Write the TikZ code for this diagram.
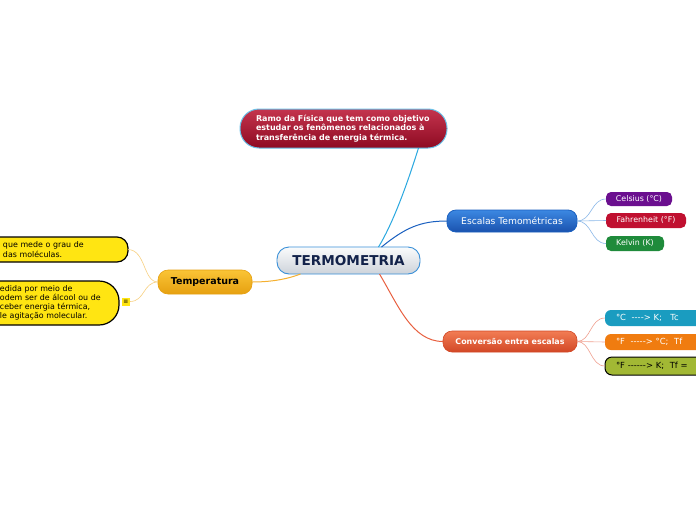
\documentclass[tikz,border=0pt]{standalone}
\usepackage{fontspec}
\setmainfont{DejaVu Sans}
\begin{document}
\begin{tikzpicture}[x=1pt,y=-1pt,
  box/.style={rectangle, inner sep=0pt, outer sep=0pt, text=white},
  lnk/.style={line width=1pt},
  thin/.style={line width=0.6pt}]
\definecolor{topA}{HTML}{C4344E}\definecolor{topB}{HTML}{8E0A22}
\definecolor{rootA}{HTML}{FAFBFC}\definecolor{rootB}{HTML}{CDD3DA}
\definecolor{rootE}{HTML}{3A90D8}\definecolor{rootT}{HTML}{12224A}
\definecolor{escA}{HTML}{3C88E2}\definecolor{escB}{HTML}{1A52AE}
\definecolor{convA}{HTML}{F27C54}\definecolor{convB}{HTML}{D24826}
\definecolor{tempA}{HTML}{FAC436}\definecolor{tempB}{HTML}{E6A010}
\definecolor{cpur}{HTML}{6B0F8F}\definecolor{cred}{HTML}{C01030}
\definecolor{cgrn}{HTML}{1F8B3B}\definecolor{cteal}{HTML}{1A9CC0}
\definecolor{corg}{HTML}{F07C10}\definecolor{coli}{HTML}{A2B834}
\definecolor{cyel}{HTML}{FFE512}
\definecolor{lTop}{HTML}{2AA8E0}\definecolor{lEsc}{HTML}{1A60C0}
\definecolor{lConv}{HTML}{E86040}\definecolor{lTemp}{HTML}{F5B030}
\definecolor{lEscC}{HTML}{8AB8E8}\definecolor{lConvC}{HTML}{F0A090}
\definecolor{lTempC}{HTML}{F8D080}
\useasboundingbox (0,0) rectangle (696,520);
\clip (0,0) rectangle (696,520);
\fill[white] (0,0) rectangle (696,520);

% nodes
\node[box, minimum width=207pt, minimum height=39pt, rounded corners=19pt,
  top color=topA, bottom color=topB, draw=lTop!70, line width=1pt,
  font=\bfseries\fontsize{8}{9.8}\selectfont, align=left, text width=175pt]
  (top) at (343.5,128.5) {Ramo da Física que tem como objetivo\\estudar os fenômenos relacionados à\\transferência de energia térmica.};

\node[box, minimum width=143pt, minimum height=27pt, rounded corners=12pt,
  top color=rootA, bottom color=rootB, draw=rootE, line width=0.9pt,
  text=rootT, font=\bfseries\fontsize{13.6}{15}\selectfont]
  (root) at (348.5,260.5) {TERMOMETRIA};

\node[box, minimum width=130pt, minimum height=22pt, rounded corners=9pt,
  top color=escA, bottom color=escB, draw=lEsc, line width=0.8pt,
  font=\fontsize{9.2}{10}\selectfont]
  (esc) at (512,221) {Escalas Temométricas};

\node[box, minimum width=66pt, minimum height=14pt, rounded corners=5pt,
  fill=cpur, font=\fontsize{7.9}{9}\selectfont]
  (cel) at (639,199) {Celsius (°C)};
\node[box, minimum width=80pt, minimum height=15pt, rounded corners=5pt,
  fill=cred, font=\fontsize{7.9}{9}\selectfont]
  (fah) at (646,220.5) {Fahrenheit (°F)};
\node[box, minimum width=58pt, minimum height=15pt, rounded corners=5pt,
  fill=cgrn, font=\fontsize{7.9}{9}\selectfont]
  (kel) at (635,243.5) {Kelvin (K)};

\node[box, minimum width=134pt, minimum height=21pt, rounded corners=9pt,
  top color=convA, bottom color=convB, draw=convB, line width=0.6pt,
  font=\bfseries\fontsize{7.9}{9}\selectfont]
  (conv) at (510,341.5) {Conversão entra escalas};

\node[box, minimum width=140pt, minimum height=16pt, rounded corners=6pt,
  fill=cteal, font=\fontsize{8.4}{9}\selectfont, anchor=west,
  text width=118pt, align=left]
  (c1) at (605,318) {°C\ \ -{}-{}-{}-> K;\ \ \ Tc};
\node[box, minimum width=140pt, minimum height=16pt, rounded corners=6pt,
  fill=corg, font=\fontsize{8.4}{9}\selectfont, anchor=west,
  text width=118pt, align=left]
  (c2) at (605,342) {°F\ \ -{}-{}-{}-{}-> °C;\ \ Tf};
\node[box, minimum width=140pt, minimum height=18pt, rounded corners=7pt,
  fill=coli, draw=black, line width=1pt, text=black,
  font=\fontsize{8.4}{9}\selectfont, anchor=west,
  text width=118pt, align=left]
  (c3) at (605,366) {°F -{}-{}-{}-{}-{}-> K;\ \ Tf =};

\node[box, minimum width=94pt, minimum height=24pt, rounded corners=10pt,
  top color=tempA, bottom color=tempB, draw=tempB, line width=0.6pt,
  text=black, font=\bfseries\fontsize{9.5}{10}\selectfont]
  (temp) at (205,282) {Temperatura};

\node[box, minimum width=178pt, minimum height=25pt, rounded corners=11pt,
  fill=cyel, draw=black, line width=1.2pt, text=black, anchor=east,
  font=\fontsize{7.9}{9.3}\selectfont, align=left, text width=170pt]
  (y1) at (128,249.5) {\hspace*{49pt}que mede o grau de\\\hspace*{49pt}das moléculas.};
\node[box, minimum width=169pt, minimum height=44pt, rounded corners=20pt,
  fill=cyel, draw=black, line width=1.2pt, text=black, anchor=east,
  font=\fontsize{7.9}{9.2}\selectfont, align=left, text width=165pt]
  (y2) at (119,303) {\hspace*{48pt}edida por meio de\\\hspace*{48pt}odem ser de álcool ou de\\\hspace*{48pt}ceber energia térmica,\\\hspace*{48pt}le agitação molecular.};
\node[box, minimum width=8pt, minimum height=8pt, fill=cyel, text=black,
  font=\fontsize{6}{6}\selectfont, inner sep=0pt] (note) at (126,301.5) {≡};

% connectors
\draw[lnk, lTop] ([xshift=30pt]root.north) .. controls (395,220) and (410,175) .. ([xshift=75pt]top.south);
\draw[lnk, lEsc] ([xshift=33pt]root.north) .. controls (405,228) and (420,221) .. (esc.west);
\draw[lnk, lConv] ([xshift=31pt]root.south) .. controls (398,305) and (412,341.5) .. (conv.west);
\draw[lnk, lTemp] ([xshift=-48pt]root.south) .. controls (285,280) and (268,282) .. (temp.east);
\draw[thin, lEscC] (esc.east) .. controls (592,221) and (591,199) .. (cel.west);
\draw[thin, lEscC] (esc.east) -- (fah.west);
\draw[thin, lEscC] (esc.east) .. controls (592,221) and (591,243.5) .. (kel.west);
\draw[thin, lConvC] (conv.east) .. controls (591,341.5) and (590,318) .. (c1.west);
\draw[thin, lConvC] (conv.east) -- (c2.west);
\draw[thin, lConvC] (conv.east) .. controls (591,341.5) and (590,366) .. (c3.west);
\draw[thin, lTempC] (temp.west) .. controls (143,282) and (146,250) .. (y1.east);
\draw[thin, lTempC] (temp.west) .. controls (143,282) and (145,301.5) .. (note.east);
\end{tikzpicture}
\end{document}
